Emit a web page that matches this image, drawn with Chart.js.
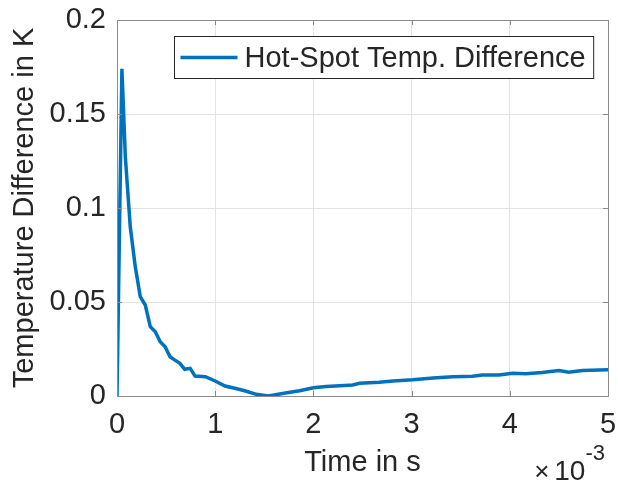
<!DOCTYPE html>
<html>
<head>
<meta charset="utf-8">
<script src="https://cdn.jsdelivr.net/npm/chart.js@4/dist/chart.umd.min.js"></script>
<style>
  html, body { margin: 0; padding: 0; background: #fff; }
  canvas { display: block; }
</style>
</head>
<body>
<canvas id="chart" width="618" height="484"></canvas>
<script>
// Datos (tiempo en unidades de 1e-3 s)
const tiempo = [0, 0.05, 0.085, 0.135, 0.186, 0.237, 0.288, 0.339, 0.39, 0.44,
    0.49, 0.54, 0.59, 0.64, 0.69, 0.745, 0.795, 0.9, 1.0, 1.1,
    1.2, 1.3, 1.42, 1.54, 1.73, 1.86, 2.0, 2.13, 2.27, 2.4,
    2.47, 2.67, 2.81, 3.01, 3.22, 3.42, 3.62, 3.72, 3.89, 4.03,
    4.16, 4.33, 4.5, 4.6, 4.74, 5.0];
const diferencia = [0, 0.174, 0.127, 0.090, 0.0688, 0.0528, 0.0484, 0.0369, 0.0342, 0.0289,
    0.0262, 0.0209, 0.0191, 0.0174, 0.0142, 0.0147, 0.0106, 0.0103, 0.008, 0.0053,
    0.0041, 0.0028, 0.0009, 0, 0.0017, 0.0028, 0.0044, 0.005, 0.0055, 0.0059,
    0.0068, 0.0073, 0.008, 0.0086, 0.0096, 0.0103, 0.0105, 0.0112, 0.0112, 0.0121,
    0.0118, 0.0125, 0.0135, 0.0126, 0.0135, 0.0139];
const xTicks = [0, 1, 2, 3, 4, 5];
const yTicks = [0, 0.05, 0.1, 0.15, 0.2];
const serieLabel = 'Hot-Spot Temp. Difference';
const xTitulo = 'Time in s';
const yTitulo = 'Temperature Difference in K';
const xExponente = '-3';

const FUENTE = '"Liberation Sans", Arial, sans-serif';
const TAM = 29;
const AZUL = '#0072BD';
const TEXTO = '#262626';

// Caja, marcas internas, leyenda y exponente estilo MATLAB
const estiloMatlab = {
    id: 'estiloMatlab',
    afterDatasetsDraw(chart) {
        const ctx = chart.ctx;
        const a = chart.chartArea;
        const sx = chart.scales.x, sy = chart.scales.y;
        ctx.save();

        // caja
        ctx.strokeStyle = '#8a8a8a';
        ctx.lineWidth = 1;
        ctx.strokeRect(Math.round(a.left) + 0.5, Math.round(a.top) + 0.5,
            Math.round(a.right - a.left), Math.round(a.bottom - a.top));

        // marcas hacia dentro
        const tl = 5;
        ctx.beginPath();
        xTicks.forEach(v => {
            const px = Math.round(sx.getPixelForValue(v)) + 0.5;
            ctx.moveTo(px, a.bottom); ctx.lineTo(px, a.bottom - tl);
            ctx.moveTo(px, a.top); ctx.lineTo(px, a.top + tl);
        });
        yTicks.forEach(v => {
            const py = Math.round(sy.getPixelForValue(v)) + 0.5;
            ctx.moveTo(a.left, py); ctx.lineTo(a.left + tl, py);
            ctx.moveTo(a.right, py); ctx.lineTo(a.right - tl, py);
        });
        ctx.stroke();

        // leyenda
        ctx.font = TAM + 'px ' + FUENTE;
        const tw = ctx.measureText(serieLabel).width;
        const bw = 6 + 57 + 7 + tw + 8;
        const bh = 42;
        const bx = Math.round(a.right - 15 - bw) + 0.5;
        const by = Math.round(a.top + 16) + 0.5;
        ctx.fillStyle = '#fff';
        ctx.fillRect(bx, by, bw, bh);
        ctx.strokeStyle = TEXTO;
        ctx.strokeRect(bx, by, bw, bh);
        const cy = by + bh / 2;
        ctx.strokeStyle = AZUL;
        ctx.lineWidth = 3.5;
        ctx.beginPath();
        ctx.moveTo(bx + 6, cy); ctx.lineTo(bx + 63, cy);
        ctx.stroke();
        ctx.fillStyle = TEXTO;
        ctx.textBaseline = 'middle';
        ctx.textAlign = 'left';
        ctx.fillText(serieLabel, bx + 70, cy + 1);

        // exponente del eje x
        ctx.textBaseline = 'alphabetic';
        ctx.font = '22px ' + FUENTE;
        const ew = ctx.measureText(xExponente).width;
        ctx.font = '28px ' + FUENTE;
        const dw = ctx.measureText('10').width;
        const ex = a.right - 3 - ew;
        ctx.fillText('10', ex - dw, 480);
        ctx.font = '26px ' + FUENTE;
        ctx.fillText('\u00d7', ex - dw - 20, 480);
        ctx.font = '22px ' + FUENTE;
        ctx.fillText(xExponente, ex, 460);

        ctx.restore();
    }
};

const ctx = document.getElementById('chart').getContext('2d');
const chart = new Chart(ctx, {
    type: 'line',
    data: {
        datasets: [{
            label: serieLabel,
            data: tiempo.map((t, i) => ({ x: t, y: diferencia[i] })),
            borderColor: AZUL,
            backgroundColor: AZUL,
            borderWidth: 3.5,
            pointRadius: 0,
            tension: 0,
            fill: false
        }]
    },
    options: {
        responsive: false,
        animation: false,
        layout: { padding: { top: 20, right: 10, left: 0, bottom: 0 } },
        plugins: {
            legend: { display: false },
            tooltip: { enabled: false }
        },
        scales: {
            x: {
                type: 'linear',
                min: 0,
                max: 5,
                afterBuildTicks: s => { s.ticks = xTicks.map(v => ({ value: v })); },
                afterFit: s => { s.height = 88; s.paddingLeft = 0; s.paddingRight = 0; },
                ticks: {
                    color: TEXTO,
                    padding: 12,
                    maxRotation: 0,
                    font: { family: FUENTE, size: TAM },
                    callback: v => String(v)
                },
                grid: { color: '#e3e3e3', drawTicks: false },
                border: { display: false },
                title: {
                    display: true,
                    text: xTitulo,
                    color: TEXTO,
                    font: { family: FUENTE, size: TAM },
                    padding: { top: 0, bottom: 4 }
                }
            },
            y: {
                type: 'linear',
                min: 0,
                max: 0.2,
                afterBuildTicks: s => { s.ticks = yTicks.map(v => ({ value: v })); },
                afterFit: s => { s.width = 117; s.paddingTop = 0; s.paddingBottom = 0; },
                ticks: {
                    color: TEXTO,
                    padding: 11,
                    font: { family: FUENTE, size: TAM },
                    callback: v => String(Math.round(v * 100) / 100)
                },
                grid: { color: '#e3e3e3', drawTicks: false },
                border: { display: false },
                title: {
                    display: true,
                    text: yTitulo,
                    color: TEXTO,
                    font: { family: FUENTE, size: TAM },
                    padding: { top: 8, bottom: 0 }
                }
            }
        }
    },
    plugins: [estiloMatlab]
});
</script>
</body>
</html>
